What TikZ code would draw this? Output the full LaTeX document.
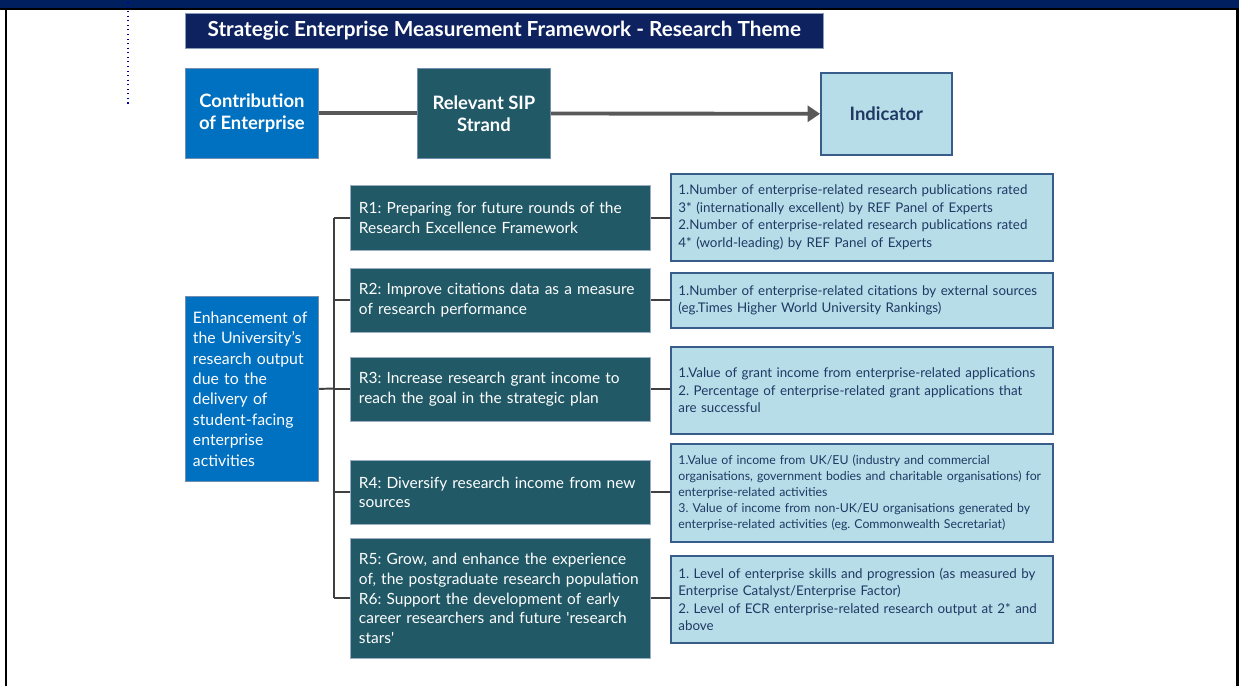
\documentclass[tikz,border=0pt]{standalone}
\usepackage{fontspec}
\setmainfont{Lato}
\usetikzlibrary{arrows.meta,positioning}
\definecolor{hdrnavy}{RGB}{0,31,95}
\definecolor{ttlnavy}{RGB}{14,34,96}
\definecolor{entblue}{RGB}{0,112,192}
\definecolor{sipteal}{RGB}{33,89,103}
\definecolor{indblue}{RGB}{183,222,232}
\definecolor{indedge}{RGB}{56,93,138}
\definecolor{indtext}{RGB}{31,56,100}
\definecolor{linkgray}{RGB}{89,89,89}
\frenchspacing
\begin{document}
\begin{tikzpicture}[x=0.02cm,y=-0.02cm,>=Triangle,
  headbox/.style={anchor=north west,minimum width=2.66cm,minimum height=1.8cm,align=center,text=white,font=\fontsize{10.5}{12.5}\selectfont\bfseries,draw=indedge!70,line width=0.5pt},
  rbox/.style={anchor=north west,minimum width=6cm,inner xsep=0.17cm,align=left,text width=5.66cm,fill=sipteal,draw=indedge!50,line width=0.5pt,text=white,font=\fontsize{8.8}{11.3}\selectfont},
  ibox/.style={anchor=north west,minimum width=7.64cm,inner xsep=0.15cm,align=left,text width=7.34cm,fill=indblue,draw=indedge,line width=1pt,text=indtext,font=\fontsize{7.6}{10}\selectfont},
  tree/.style={draw=black!75,line width=1.1pt},
  link/.style={draw=linkgray,line width=2.2pt}]
\useasboundingbox (0,0) rectangle (1239,686);
% page frame
\fill[hdrnavy] (0,0) rectangle (1239,8);
\fill[black] (0,8) rectangle (1239,10);
\fill[black] (5,8) rectangle (7,686);
\fill[black] (1236,8) rectangle (1239,686);
\draw[blue!70!black,dotted,line width=0.6pt] (128,2) -- (128,107);
% title
\node[anchor=north west,minimum width=12.76cm,minimum height=0.7cm,fill=ttlnavy,draw=indedge!60,text=white,font=\fontsize{11.8}{13}\selectfont\bfseries] (title) at (185,13) {Strategic Enterprise Measurement Framework - Research Theme};
% header row
\node[headbox,fill=entblue] (contrib) at (185,68) {Contribution\\of Enterprise};
\node[headbox,fill=sipteal] (sip) at (417,68) {Relevant SIP\\Strand};
\node[headbox,anchor=north west,minimum width=2.62cm,minimum height=1.64cm,fill=indblue,draw=indedge,line width=1pt,text=indtext] (ind) at (820,72) {Indicator};
\draw[link] (contrib) -- (sip);
\draw[link,-{Triangle[length=7pt,width=9pt]}] (sip) -- (ind);
% contribution
\node[anchor=north west,minimum width=2.66cm,minimum height=3.7cm,text width=2.36cm,align=left,fill=entblue,draw=indedge!70,line width=0.5pt,text=white,font=\fontsize{9}{11.6}\selectfont] (enh) at (185,296) {Enhancement of\\the University's\\research output\\due to the\\delivery of\\student-facing\\enterprise\\activities};
% strands
\node[rbox,minimum height=1.3cm] (r1) at (350,185) {R1: Preparing for future rounds of the\\Research Excellence Framework};
\node[rbox,minimum height=1.28cm] (r2) at (350,268) {R2: Improve citations data as a measure\\of research performance};
\node[rbox,minimum height=1.28cm] (r3) at (350,357) {R3: Increase research grant income to\\reach the goal in the strategic plan};
\node[rbox,minimum height=1.28cm] (r4) at (350,460) {R4: Diversify research income from new\\sources};
\node[rbox,minimum height=2.4cm] (r5) at (350,538) {R5: Grow, and enhance the experience\\of, the postgraduate research population\\R6: Support the development of early\\career researchers and future \textquotesingle research\\stars\textquotesingle};
% indicators
\node[ibox,minimum height=1.74cm] (i1) at (670,173) {1.Number of enterprise-related research publications rated\\3* (internationally excellent) by REF Panel of Experts\\2.Number of enterprise-related research publications rated\\4* (world-leading) by REF Panel of Experts};
\node[ibox,minimum height=1.1cm] (i2) at (670,272) {1.Number of enterprise-related citations by external sources\\(eg.Times Higher World University Rankings)};
\node[ibox,minimum height=1.74cm] (i3) at (670,346) {1.Value of grant income from enterprise-related applications\\2. Percentage of enterprise-related grant applications that\\are successful};
\node[ibox,minimum height=1.96cm,font=\fontsize{7}{9.1}\selectfont] (i4) at (670,443) {1.Value of income from UK/EU (industry and commercial\\organisations, government bodies and charitable organisations) for\\enterprise-related activities\\3. Value of income from non-UK/EU organisations generated by\\enterprise-related activities (eg. Commonwealth Secretariat)};
\node[ibox,minimum height=1.74cm] (i5) at (670,555) {1. Level of enterprise skills and progression (as measured by\\Enterprise Catalyst/Enterprise Factor)\\2. Level of ECR enterprise-related research output at 2* and\\above};
% tree
\coordinate (trunk) at (334,388.5);
\draw[tree] (enh.east) -- (trunk);
\draw[tree] (trunk |- r1.west) -- (trunk |- r5.west);
\foreach \r/\i in {r1/i1,r2/i2,r3/i3,r4/i4,r5/i5}{
  \draw[tree] (trunk |- \r.west) -- (\r.west);
  \draw[tree] (\r.east) -- (\r.east -| \i.west);
}
\end{tikzpicture}
\end{document}
